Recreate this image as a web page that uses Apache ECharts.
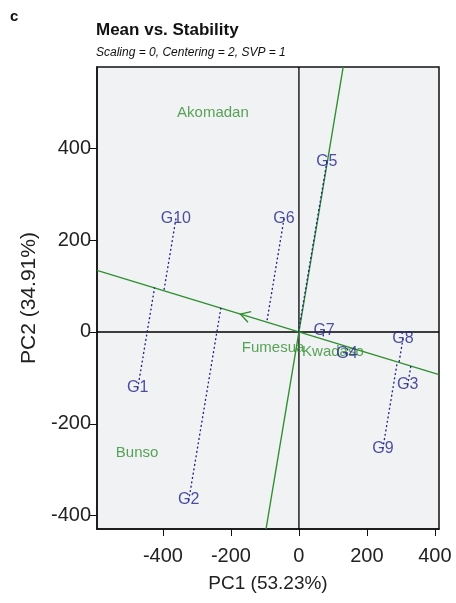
<!DOCTYPE html>
<html>
<head>
<meta charset="utf-8">
<script src="https://cdn.jsdelivr.net/npm/echarts@6/dist/echarts.min.js"></script>
<style>
  html, body { margin: 0; padding: 0; background: #ffffff; }
  #chart { width: 456px; height: 603px; }
</style>
</head>
<body>
<div id="chart"></div>
<script>
// Genotype scores (PC1, PC2)
const genotypeNames = ['G1', 'G2', 'G3', 'G4', 'G5', 'G6', 'G7', 'G8', 'G9', 'G10'];
const genotypePC1 = [-474, -324, 320, 141, 82, -44, 74, 306, 247, -362];
const genotypePC2 = [-122, -366, -115, -48, 370, 246, 3, -15, -253, 246];

// Environment scores (PC1, PC2)
const environmentNames = ['Akomadan', 'Bunso', 'Fumesua', 'Kwadaso'];
const environmentPC1 = [-253, -476, -76, 100];
const environmentPC2 = [477, -264, -35, -44];

// Average-environment coordinate: sets the direction of the mean axis (arrow tip)
const averageEnvironment = [-172, 38.8];

// Axis ranges and tick labels
const pc1Range = [-594, 412];
const pc2Range = [-429, 577];
const tickValues = [-400, -200, 0, 200, 400];

const navy = '#23238a';
const green = '#2f8f2f';
const fontFamily = '"Liberation Sans", Arial, sans-serif';

// Unit vector of the average-environment axis
const aLen = Math.hypot(averageEnvironment[0], averageEnvironment[1]);
const ux = averageEnvironment[0] / aLen;
const uy = averageEnvironment[1] / aLen;
const slopeMean = uy / ux;

// Mean axis across the full PC1 range; stability axis (perpendicular) across PC2 range
const meanAxis = [[pc1Range[0], slopeMean * pc1Range[0]], [pc1Range[1], slopeMean * pc1Range[1]]];
const stabilityAxis = [[-slopeMean * pc2Range[0], pc2Range[0]], [-slopeMean * pc2Range[1], pc2Range[1]]];

// Projection of each genotype onto the mean axis
const projectionSeries = genotypeNames.map((name, i) => {
  const gx = genotypePC1[i], gy = genotypePC2[i];
  const t = gx * ux + gy * uy;
  return {
    type: 'line',
    name: name + '-proj',
    data: [[gx, gy], [t * ux, t * uy]],
    symbol: 'none',
    silent: true,
    z: 3,
    lineStyle: { color: navy, width: 1.4, type: [0.8, 3.6], cap: 'round' }
  };
});

const chart = echarts.init(document.getElementById('chart'), null, { renderer: 'canvas' });

chart.setOption({
  backgroundColor: '#ffffff',
  animation: false,
  title: {
    text: 'Mean vs. Stability',
    subtext: 'Scaling = 0, Centering = 2, SVP = 1',
    left: 96,
    top: 22,
    itemGap: 8,
    padding: 0,
    textStyle: { fontFamily: fontFamily, fontSize: 17, fontWeight: 'bold', color: '#111' },
    subtextStyle: { fontFamily: fontFamily, fontSize: 12, fontStyle: 'italic', color: '#111' }
  },
  graphic: [{
    type: 'text',
    left: 10,
    top: 9,
    style: { text: 'c', font: 'bold 15px "Liberation Sans", Arial, sans-serif', fill: '#111' }
  }],
  grid: {
    left: 97, right: 17, top: 67, bottom: 74,
    show: true,
    backgroundColor: '#f1f2f4',
    borderColor: '#111',
    borderWidth: 1.5
  },
  xAxis: {
    type: 'value',
    min: pc1Range[0], max: pc1Range[1],
    name: 'PC1 (53.23%)',
    nameLocation: 'middle',
    nameGap: 45,
    nameTextStyle: { fontFamily: fontFamily, fontSize: 19, color: '#222' },
    axisLine: { show: true, onZero: false, lineStyle: { color: '#111', width: 1.5 } },
    axisTick: { show: true, customValues: tickValues, length: 7, lineStyle: { color: '#111' } },
    axisLabel: { customValues: tickValues, fontFamily: fontFamily, fontSize: 20, color: '#222', margin: 17 },
    splitLine: { show: false }
  },
  yAxis: {
    type: 'value',
    min: pc2Range[0], max: pc2Range[1],
    name: 'PC2 (34.91%)',
    nameLocation: 'middle',
    nameGap: 52,
    nameRotate: 90,
    nameTextStyle: { fontFamily: fontFamily, fontSize: 21, color: '#222' },
    axisLine: { show: true, onZero: false, lineStyle: { color: '#111', width: 1.5 } },
    axisTick: { show: true, customValues: tickValues, length: 7, lineStyle: { color: '#111' } },
    axisLabel: { customValues: tickValues, fontFamily: fontFamily, fontSize: 20, color: '#222', margin: 6 },
    splitLine: { show: false }
  },
  series: [
    // zero reference lines
    {
      type: 'line', name: 'h0', symbol: 'none', silent: true, z: 1,
      data: [[pc1Range[0], 0], [pc1Range[1], 0]],
      lineStyle: { color: '#000', width: 1.3 }
    },
    {
      type: 'line', name: 'v0', symbol: 'none', silent: true, z: 1,
      data: [[0, pc2Range[0]], [0, pc2Range[1]]],
      lineStyle: { color: '#000', width: 1.3 }
    },
    // mean (abscissa) and stability (ordinate) axes
    {
      type: 'line', name: 'meanAxis', symbol: 'none', silent: true, z: 2,
      data: meanAxis,
      lineStyle: { color: green, width: 1.4 }
    },
    {
      type: 'line', name: 'stabilityAxis', symbol: 'none', silent: true, z: 2,
      data: stabilityAxis,
      lineStyle: { color: green, width: 1.4 }
    },
    // open arrow head pointing toward higher mean
    {
      type: 'custom', name: 'arrow', silent: true, z: 4,
      data: [averageEnvironment],
      renderItem: function (params, api) {
        const tip = api.coord([api.value(0), api.value(1)]);
        const o = api.coord([0, 0]);
        const dx = o[0] - tip[0], dy = o[1] - tip[1];
        const len = Math.hypot(dx, dy);
        const bx = dx / len, by = dy / len;
        const L = 11, ang = Math.PI / 6;
        const c = Math.cos(ang), s = Math.sin(ang);
        const a1 = [tip[0] + L * (bx * c - by * s), tip[1] + L * (bx * s + by * c)];
        const a2 = [tip[0] + L * (bx * c + by * s), tip[1] + L * (-bx * s + by * c)];
        return {
          type: 'polyline',
          shape: { points: [a1, tip, a2] },
          style: { stroke: green, lineWidth: 1.4, fill: null }
        };
      }
    },
    ...projectionSeries,
    // environment labels
    {
      type: 'scatter', name: 'environments', symbolSize: 0, silent: true, z: 5,
      data: environmentNames.map((n, i) => ({ name: n, value: [environmentPC1[i], environmentPC2[i]] })),
      label: {
        show: true, position: [0, 0], align: 'center', verticalAlign: 'middle',
        formatter: p => p.name,
        fontFamily: fontFamily, fontSize: 15, color: green
      }
    },
    // genotype labels
    {
      type: 'scatter', name: 'genotypes', symbolSize: 0, silent: true, z: 6,
      data: genotypeNames.map((n, i) => ({ name: n, value: [genotypePC1[i], genotypePC2[i]] })),
      label: {
        show: true, position: [0, 0], align: 'center', verticalAlign: 'middle',
        formatter: p => p.name,
        fontFamily: fontFamily, fontSize: 16, color: navy
      }
    }
  ]
});
</script>
</body>
</html>
